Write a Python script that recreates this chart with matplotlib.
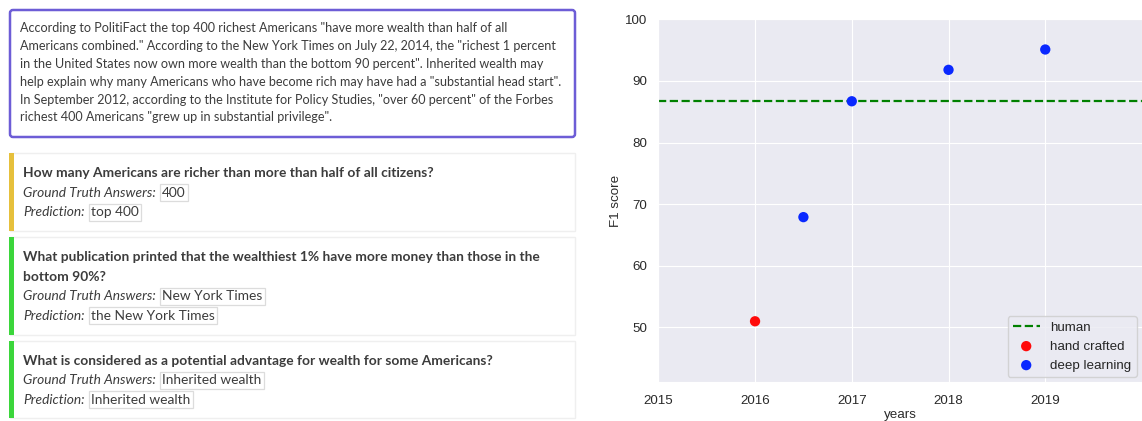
import matplotlib
matplotlib.use("Agg")
import matplotlib.pyplot as plt
from matplotlib.patches import Rectangle, FancyBboxPatch
import seaborn as sns

# ---------------- data ----------------
passage_lines = [
    'According to PolitiFact the top 400 richest Americans "have more wealth than half of all',
    'Americans combined." According to the New York Times on July 22, 2014, the "richest 1 percent',
    'in the United States now own more wealth than the bottom 90 percent". Inherited wealth may',
    'help explain why many Americans who have become rich may have had a "substantial head start".',
    'In September 2012, according to the Institute for Policy Studies, "over 60 percent" of the Forbes',
    'richest 400 Americans "grew up in substantial privilege".',
]
questions = [
    ["How many Americans are richer than more than half of all citizens?"],
    ["What publication printed that the wealthiest 1% have more money than those in the",
     "bottom 90%?"],
    ["What is considered as a potential advantage for wealth for some Americans?"],
]
ground_truths = ["400", "New York Times", "Inherited wealth"]
predictions = ["top 400", "the New York Times", "Inherited wealth"]
card_colors = ["#e6c03c", "#3bd63b", "#3bd63b"]

hand_years = [2016.0]
hand_f1 = [51.0]
deep_years = [2016.5, 2017.0, 2018.0, 2019.0]
deep_f1 = [67.9, 86.7, 91.8, 95.1]
human_f1 = 86.8
x_ticks = [2015, 2016, 2017, 2018, 2019]
y_ticks = [50, 60, 70, 80, 90, 100]

# ---------------- style ----------------
sns.set_style("darkgrid")
plt.rcParams['font.family'] = ['Liberation Sans', 'DejaVu Sans']

W, H = 1142, 421
fig = plt.figure(figsize=(W / 100, H / 100), dpi=100)

# ---------------- left text panel ----------------
lp = fig.add_axes([0, 0, 590 / W, 1])
lp.set_xlim(0, 590)
lp.set_ylim(H, 0)
lp.set_axis_off()

txt_col = "#3c3c3c"
body_fs = 9.13
card_fs = 9.95
lp.add_patch(FancyBboxPatch((10, 10), 565, 127,
                            boxstyle="round,pad=0,rounding_size=3",
                            fc="white", ec="#6d5dd6", lw=1.8))
y0, dy = 28.3, 17.8
for i, line in enumerate(passage_lines):
    lp.text(19.5, y0 + i * dy, line, family="Lato", fontsize=body_fs,
            color=txt_col, va="center", ha="left")

card_tops = [153.3, 237.3, 340.7]
card_bots = [231.0, 335.0, 418.3]
line_h = 19.5
for k in range(3):
    top, bot = card_tops[k], card_bots[k]
    lp.add_patch(Rectangle((9.5, top), 565, bot - top, fc="white",
                           ec="#efefef", lw=1.0))
    lp.add_patch(Rectangle((9.3, top), 4.5, bot - top, fc=card_colors[k],
                           ec="none"))
    y = top + 20
    for qline in questions[k]:
        lp.text(23, y, qline, family="Lato", fontweight="bold",
                fontsize=card_fs, color=txt_col, va="center", ha="left")
        y += line_h
    lp.text(23, y, "Ground Truth Answers:", family="Lato", style="italic",
            fontsize=card_fs, color=txt_col, va="center", ha="left")
    lp.text(162, y, ground_truths[k], family="Lato", fontsize=card_fs,
            color=txt_col, va="center", ha="left",
            bbox=dict(boxstyle="square,pad=0.18", fc="white",
                      ec="#dcdcdc", lw=0.9))
    y += line_h
    lp.text(23, y, "Prediction:", family="Lato", style="italic",
            fontsize=card_fs, color=txt_col, va="center", ha="left")
    lp.text(91, y, predictions[k], family="Lato", fontsize=card_fs,
            color=txt_col, va="center", ha="left",
            bbox=dict(boxstyle="square,pad=0.18", fc="white",
                      ec="#dcdcdc", lw=0.9))

# ---------------- chart ----------------
ax = fig.add_axes([658.3 / W, (H - 382.3) / H, (W - 658.3) / W,
                   (382.3 - 19.3) / H])
ax.axhline(human_f1, color="green", ls="--", lw=1.6, label="human", zorder=2)
ax.scatter(hand_years, hand_f1, color="#ff0a0a", s=55, label="hand crafted",
           zorder=3, edgecolors="none")
ax.scatter(deep_years, deep_f1, color="#0a28ff", s=55, label="deep learning",
           zorder=3, edgecolors="none")
ax.set_xlim(2015, 2020)
ax.set_ylim(41.1, 100)
ax.set_xticks(x_ticks)
ax.set_yticks(y_ticks)
ax.tick_params(axis="y", labelsize=9.6, colors="#2a2a2a", pad=4.5)
ax.tick_params(axis="x", labelsize=9.6, colors="#2a2a2a", pad=6)
ax.set_xlabel("years", fontsize=9.6, color="#2a2a2a", labelpad=1)
ax.set_ylabel("F1 score", fontsize=9.6, color="#2a2a2a", labelpad=2)
ax.legend(loc="lower right", fontsize=9.6, frameon=True,
          borderaxespad=0.4)

fig.savefig("out.png", dpi=100)
